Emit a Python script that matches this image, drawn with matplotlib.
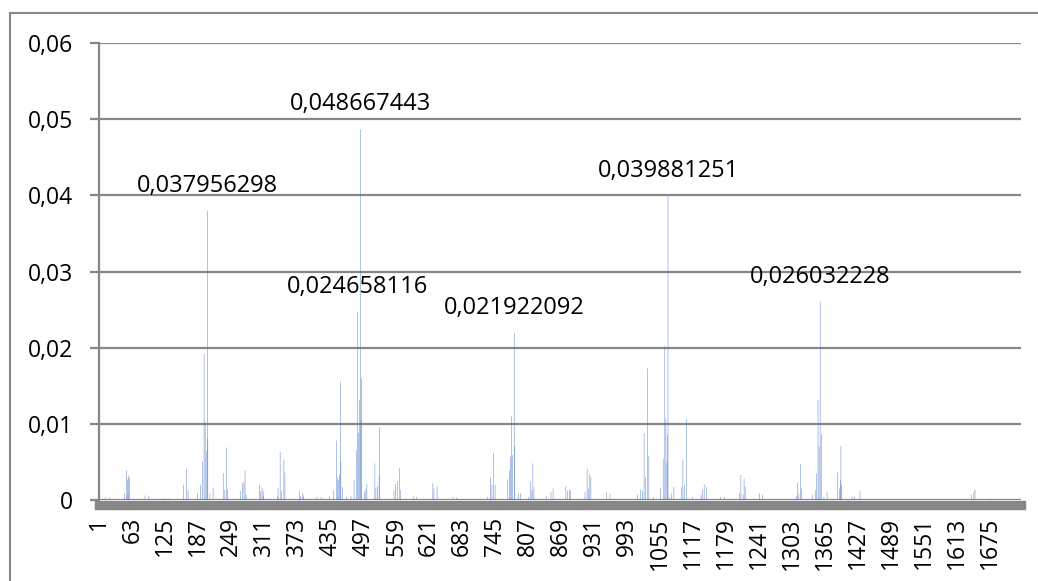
#!/usr/bin/env python3
# Spiky bar chart, ~1733 categories, only peaks labelled
import numpy as np
import matplotlib
matplotlib.use("Agg")
import matplotlib.pyplot as plt
from matplotlib.patches import Rectangle

plt.rcParams['font.family'] = ['Open Sans', 'DejaVu Sans']

n_cats = 1733
# non-zero bars (category number, value)
spike_cats = [12, 20, 48, 52, 54, 55, 56, 58, 87, 94, 121, 126, 131, 159, 165, 168, 186, 191, 195, 198,
              200, 202, 204, 205, 209, 215, 234, 237, 240, 242, 267, 270, 273, 275, 277, 302, 304, 307, 309, 310,
              336, 337, 341, 344, 348, 350, 377, 379, 383, 385, 410, 418, 434, 441, 447, 449, 451, 453, 454, 455,
              458, 466, 474, 480, 484, 486, 488, 490, 492, 493, 494, 500, 502, 504, 519, 521, 524, 527, 528, 538,
              555, 558, 561, 565, 567, 591, 597, 628, 630, 636, 666, 672, 716, 731, 736, 739, 742, 745, 769, 772,
              774, 776, 778, 781, 782, 789, 793, 808, 811, 814, 816, 818, 842, 850, 854, 878, 881, 885, 887, 914,
              918, 920, 923, 925, 954, 961, 991, 1013, 1018, 1022, 1025, 1028, 1031, 1034, 1043, 1056, 1061, 1064, 1066, 1068,
              1069, 1070, 1073, 1076, 1081, 1096, 1098, 1101, 1105, 1116, 1132, 1135, 1138, 1142, 1169, 1176, 1204, 1207, 1211, 1213,
              1215, 1242, 1248, 1282, 1311, 1313, 1316, 1319, 1321, 1341, 1347, 1349, 1352, 1354, 1356, 1358, 1363, 1369, 1389, 1392,
              1394, 1395, 1396, 1416, 1421, 1431, 1497, 1610, 1640, 1645, 1647, 1676]
spike_vals = [0.00035, 0.0003, 0.0009, 0.0039, 0.0027, 0.0008, 0.0032, 0.0029, 0.0006, 0.0005, 0.0002, 0.0002, 0.0002, 0.0020, 0.0041, 0.0013, 0.0009, 0.0020, 0.0051, 0.0192,
              0.0103, 0.0064, 0.037956298, 0.0081, 0.0008, 0.0016, 0.0035, 0.0013, 0.0069, 0.0014, 0.0012, 0.0022, 0.0024, 0.0039, 0.0007, 0.0020, 0.0011, 0.0016, 0.0012, 0.0005,
              0.0005, 0.0016, 0.0063, 0.0012, 0.0053, 0.0036, 0.0012, 0.0005, 0.0010, 0.0006, 0.0004, 0.0004, 0.0005, 0.0013, 0.0078, 0.0029, 0.0026, 0.0033, 0.0155, 0.0051,
              0.0017, 0.0004, 0.0005, 0.0026, 0.0066, 0.024658116, 0.0088, 0.0131, 0.048667443, 0.0105, 0.0160, 0.0010, 0.0014, 0.0021, 0.0048, 0.0015, 0.0018, 0.0032, 0.0096, 0.0001,
              0.0013, 0.0021, 0.0025, 0.0042, 0.0013, 0.0005, 0.0004, 0.0022, 0.0015, 0.0018, 0.0004, 0.0003, 0.0001, 0.0004, 0.0030, 0.0020, 0.0061, 0.0020, 0.0027, 0.0039,
              0.0057, 0.0110, 0.0059, 0.021922092, 0.0071, 0.0009, 0.0009, 0.0004, 0.0024, 0.0013, 0.0048, 0.0015, 0.0005, 0.0010, 0.0015, 0.0018, 0.0012, 0.0014, 0.0012, 0.0011,
              0.0041, 0.0015, 0.0034, 0.0030, 0.0010, 0.0008, 0.0001, 0.0007, 0.0014, 0.0012, 0.0088, 0.0030, 0.0173, 0.0058, 0.0004, 0.0016, 0.0054, 0.0202, 0.0107, 0.0049,
              0.0085, 0.039881251, 0.0003, 0.0009, 0.0017, 0.0017, 0.0053, 0.0020, 0.0106, 0.0004, 0.0007, 0.0014, 0.0020, 0.0017, 0.0004, 0.0004, 0.0009, 0.0033, 0.0007, 0.0028,
              0.0018, 0.0009, 0.0007, 0.0001, 0.0005, 0.0023, 0.0008, 0.0047, 0.0015, 0.0007, 0.0013, 0.0035, 0.0131, 0.0070, 0.026032228, 0.0086, 0.0004, 0.0011, 0.0036, 0.0015,
              0.0026, 0.0071, 0.0020, 0.0004, 0.0005, 0.0012, 0.0001, 0.0001, 0.0007, 0.0011, 0.0014, 0.0002]
# bars that carry a data label
labelled = [204, 492, 486, 781, 1070, 1356]

cats = np.arange(1, n_cats + 1)
vals = np.zeros(n_cats)
vals[np.array(spike_cats) - 1] = spike_vals

fig = plt.figure(figsize=(10.38, 5.81), dpi=100)
ax = fig.add_axes([99/1038, 1 - 500/581, 922/1038, 457/581])

# spines first: set_position resets the tick labels
for s in ['top', 'right']:
    ax.spines[s].set_visible(False)
ax.spines['left'].set_color('#878787')
ax.spines['left'].set_linewidth(1.6)
ax.spines['bottom'].set_color('#878787')
ax.spines['bottom'].set_linewidth(6.8)
ax.spines['bottom'].set_position(('outward', 3.4))

ax.bar(cats, vals, width=1.0, color='#4472C4', alpha=0.8, linewidth=0, snap=False)

for c in labelled:
    v = vals[c - 1]
    ax.annotate(f"{v:.9f}".replace('.', ','), (c, v), xytext=(0, 13.7), textcoords='offset points',
                ha='center', va='baseline', fontsize=17)

ax.set_xlim(0.5, n_cats + 0.5)
ax.set_ylim(0, 0.06)
yt = [0, 0.01, 0.02, 0.03, 0.04, 0.05, 0.06]
ax.set_yticks(yt)
ax.set_yticklabels(['0'] + [f"{t:.2f}".replace('.', ',') for t in yt[1:]])
xt = list(range(1, n_cats + 1, 62))
ax.set_xticks(xt)
ax.set_xticklabels([str(t) for t in xt], rotation=90)

ax.grid(axis='y', color='#878787', linewidth=1.6)
ax.set_axisbelow(True)
ax.tick_params(axis='y', length=6.5, width=1.6, color='#878787', pad=12, labelsize=16.5)
ax.tick_params(axis='x', length=0, pad=9, labelsize=16.5)

# outer chart border
fig.patches.append(Rectangle((10/1038, -0.1), 1.2, 1 - 13/581 + 0.1, transform=fig.transFigure,
                             fill=False, edgecolor='#898989', linewidth=1.5))

plt.savefig("out.png", dpi=100)
